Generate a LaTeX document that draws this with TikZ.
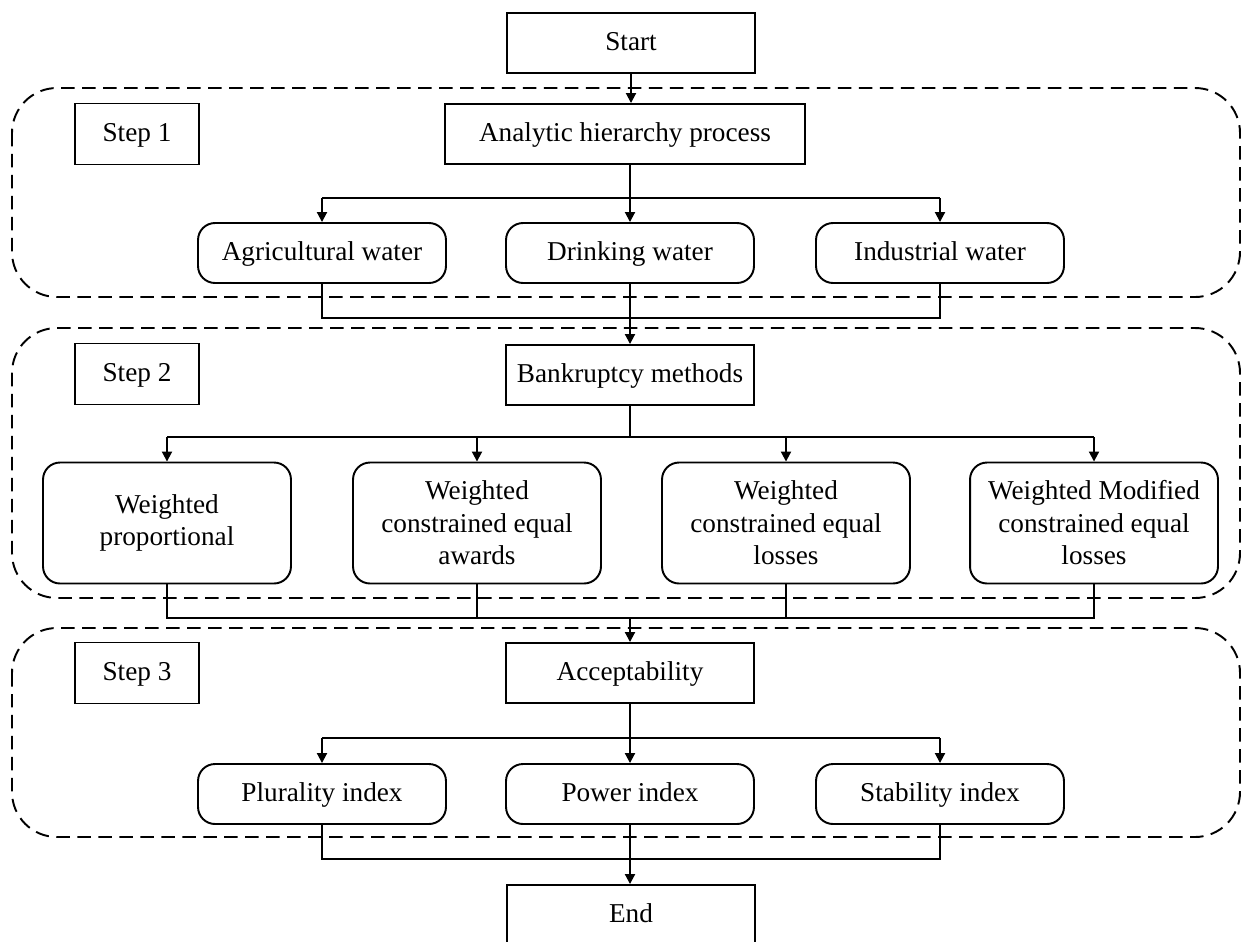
\documentclass[tikz,border=0pt]{standalone}
\usepackage{fontspec}
\setmainfont{Liberation Serif}
\usetikzlibrary{arrows.meta}

\tikzset{
  boxbase/.style={draw, line width=1.1pt, inner sep=0pt, align=center,
    minimum width=4.96cm, font=\fontsize{15.5}{18.5}\selectfont},
  plainbox/.style={boxbase, minimum height=1.2cm, text height=10.5pt, text depth=2pt},
  stepbox/.style={plainbox, minimum width=2.48cm, minimum height=1.22cm},
  softbox/.style={plainbox, rounded corners=0.34cm},
  methodbox/.style={boxbase, rounded corners=0.34cm, minimum height=2.42cm},
  region/.style={draw, line width=1.1pt, dash pattern=on 0.27cm off 0.15cm,
    rounded corners=0.9cm},
  link/.style={line width=1.1pt},
  arr/.style={link, -{Triangle[length=0.2cm,width=0.2cm]}}
}

\begin{document}
\begin{tikzpicture}[x=0.02cm,y=-0.02cm]
\useasboundingbox (0,0) rectangle (1241,941);

\draw[region] (12,88) rectangle (1240,297);
\draw[region] (12,328) rectangle (1240,598);
\draw[region] (12,628) rectangle (1240,837);

\node[plainbox] (start) at (631,43) {Start};

\node[stepbox] (s1) at (137,134) {Step 1};
\node[plainbox, minimum width=7.2cm] (ahp) at (625,134) {Analytic hierarchy process};
\node[softbox] (agri) at (322,253) {Agricultural water};
\node[softbox] (drink) at (630,253) {Drinking water};
\node[softbox] (indu) at (940,253) {Industrial water};

\node[stepbox] (s2) at (137,374) {Step 2};
\node[plainbox] (bank) at (630,375) {Bankruptcy methods};
\node[methodbox] (wp) at (167,523) {Weighted\\proportional};
\node[methodbox] (wcea) at (477,523) {Weighted\\constrained equal\\awards};
\node[methodbox] (wcel) at (786,523) {Weighted\\constrained equal\\losses};
\node[methodbox] (wmcel) at (1094,523) {Weighted Modified\\constrained equal\\losses};

\node[stepbox] (s3) at (137,673) {Step 3};
\node[plainbox] (acc) at (630,673) {Acceptability};
\node[softbox] (plur) at (322,794) {Plurality index};
\node[softbox] (pow) at (630,794) {Power index};
\node[softbox] (stab) at (940,794) {Stability index};

\node[plainbox] (end) at (631,915) {End};

\coordinate (fork1) at (630,198);
\coordinate (join1) at (630,318);
\coordinate (fork2) at (630,437);
\coordinate (join2) at (630,618);
\coordinate (fork3) at (630,738);
\coordinate (join3) at (630,859);

\draw[arr] (start.south) -- (start.south |- ahp.north);

\draw[link] (drink.north |- ahp.south) -- (fork1);
\draw[link] (agri.north |- fork1) -- (indu.north |- fork1);
\foreach \n in {agri,drink,indu}
  \draw[arr] (\n.north |- fork1) -- (\n.north);

\draw[link] (agri.south) -- (agri.south |- join1) -- (indu.south |- join1) -- (indu.south);
\draw[arr] (drink.south) -- (bank.north);

\draw[link] (bank.south) -- (fork2);
\draw[link] (wp.north |- fork2) -- (wmcel.north |- fork2);
\foreach \n in {wp,wcea,wcel,wmcel}
  \draw[arr] (\n.north |- fork2) -- (\n.north);

\draw[link] (wp.south) -- (wp.south |- join2) -- (wmcel.south |- join2) -- (wmcel.south);
\draw[link] (wcea.south) -- (wcea.south |- join2);
\draw[link] (wcel.south) -- (wcel.south |- join2);
\draw[arr] (join2) -- (acc.north);

\draw[link] (acc.south) -- (fork3);
\draw[link] (plur.north |- fork3) -- (stab.north |- fork3);
\foreach \n in {plur,pow,stab}
  \draw[arr] (\n.north |- fork3) -- (\n.north);

\draw[link] (plur.south) -- (plur.south |- join3) -- (stab.south |- join3) -- (stab.south);
\draw[arr] (pow.south) -- (pow.south |- end.north);
\end{tikzpicture}
\end{document}
